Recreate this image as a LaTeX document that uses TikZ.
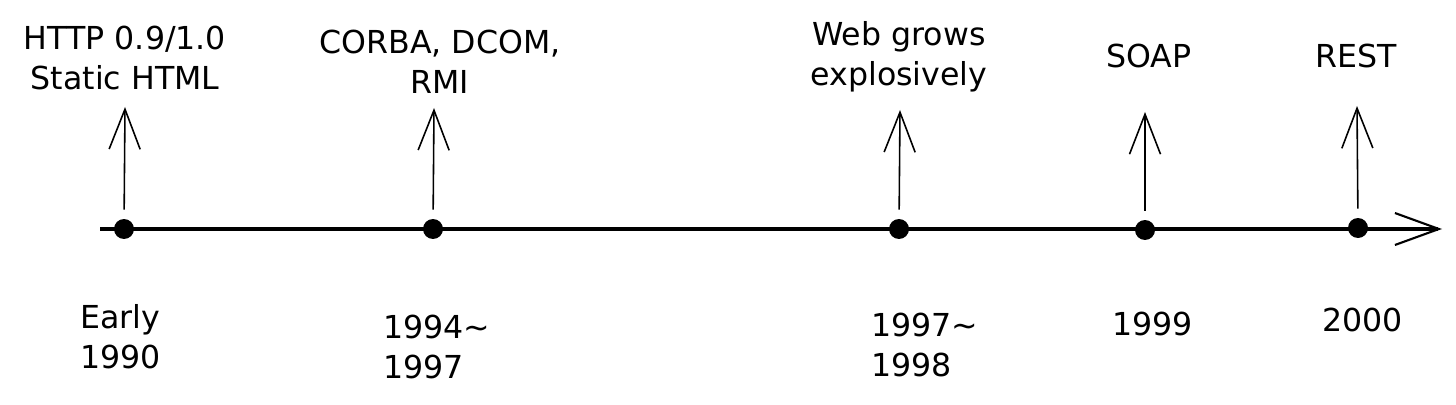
\documentclass[tikz,border=0pt]{standalone}
\usepackage{fontspec}
\setmainfont{DejaVu Sans}
\usetikzlibrary{arrows.meta, positioning}

\begin{document}
\begin{tikzpicture}[
  x=0.02cm, y=-0.02cm,
  every node/.style={font=\fontsize{18}{23}\selectfont},
  dot/.style={circle, fill=black, inner sep=0pt, minimum size=0.4cm},
  event/.style={align=center, inner sep=0pt},
  year/.style={align=left, anchor=west, inner sep=0pt},
  axis/.style={-{Straight Barb[length=0.88cm, width=0.64cm, line width=1.2pt]}, line width=2pt},
  rise/.style={-{Straight Barb[length=0.8cm, width=0.62cm]}, line width=0.9pt, shorten <=0.18cm},
]

% Frame
\useasboundingbox (0,0) rectangle (1456,405);

% Time axis
\coordinate (start) at (100,229);
\coordinate (end) at (1442,229);
\draw[axis] (start) -- (end);

% Points on the axis
\node[dot] (d1990) at (124,229) {};
\node[dot] (d1994) at (433,229) {};
\node[dot] (d1997) at (899,229) {};
\node[dot] (d1999) at (1145,230) {};
\node[dot] (d2000) at (1358,228) {};

% Arrow tips
\coordinate (t1990) at (125,107);
\coordinate (t1994) at (434,108);
\coordinate (t1997) at (900,110);
\coordinate (t1999) at (1145,112);
\coordinate (t2000) at (1357,106);

% Arrows
\draw[rise] (d1990) -- (t1990);
\draw[rise] (d1994) -- (t1994);
\draw[rise] (d1997) -- (t1997);
\draw[rise] (d1999) -- (t1999);
\draw[rise] (d2000) -- (t2000);

% Events
\node[event] (http) at (125,58) {HTTP 0.9/1.0\\Static HTML};
\node[event] (corba) at (440,62) {CORBA, DCOM,\\RMI};
\node[event] (web) at (899,57) {Web grows\\explosively};
\node[event] (soap) at (1149,56) {SOAP};
\node[event] (rest) at (1356,56) {REST};

% Years
\node[year] (y1990) at (80,337) {Early\\1990};
\node[year] (y1994) at (383,347) {1994\textasciitilde\\1997};
\node[year] (y1997) at (871,345) {1997\textasciitilde\\1998};
\node[year] (y1999) at (1112,324) {1999};
\node[year] (y2000) at (1322,320) {2000};

\end{tikzpicture}
\end{document}
